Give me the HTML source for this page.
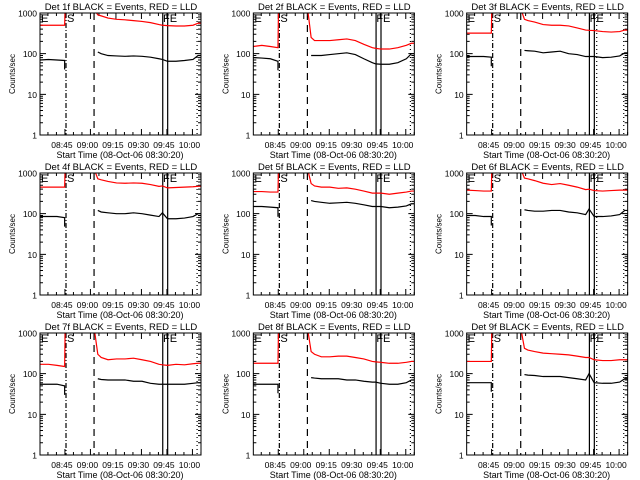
<!DOCTYPE html>
<html><head><meta charset="utf-8"><style>
html,body{margin:0;padding:0;background:#fff;width:640px;height:480px;overflow:hidden}
svg text{font-family:"Liberation Sans",sans-serif;fill:#000}
</style></head><body>
<svg id="chart" width="640" height="480" viewBox="0 0 640 480" xmlns="http://www.w3.org/2000/svg"></svg>
<script>
// Shared sample times (minutes after 08:30:20)
const seg1Times = [0, 5, 10, 14.5];
const seg2Times = [32, 34, 36, 40, 45, 50, 55, 60, 65, 70, 72, 75, 80, 85, 90, 93];
const tickLabels = ["08:45", "09:00", "09:15", "09:30", "09:45", "10:00"];
const yTickValues = [1, 10, 100, 1000];
const detNames = ["1f","2f","3f","4f","5f","6f","7f","8f","9f"];
// Pre-gap levels
const red1 = [[500,500,500,500],[150,160,150,140],[320,320,320,320],[450,450,450,450],[350,350,340,340],[380,370,360,360],[170,170,160,150],[180,180,180,180],[200,200,200,200]];
const black1 = [[70,72,70,68],[80,78,75,65],[85,85,85,82],[85,85,85,80],[150,150,145,140],[90,90,85,85],[55,55,55,50],[55,55,55,55],[60,60,60,60]];
// Post-gap series (red: LLD, black: Events); black uses seg2Times from index 1
const red2 = [
 [1200,900,850,750,700,680,650,620,580,520,500,490,480,480,500,560],
 [1200,250,210,210,210,220,230,210,170,140,135,130,130,140,160,180],
 [1200,700,650,600,520,500,500,480,430,380,375,370,350,340,350,380],
 [1200,720,680,620,570,560,570,560,520,470,480,430,440,450,460,470],
 [1200,550,480,450,450,420,430,400,360,320,320,320,300,320,340,360],
 [1200,750,720,650,560,520,550,500,450,390,400,370,360,370,380,380],
 [1200,300,250,220,230,230,240,220,200,170,165,160,170,165,175,180],
 [1200,350,300,260,260,270,270,250,230,200,195,190,180,180,190,200],
 [1200,420,380,350,320,310,300,290,270,250,250,220,210,210,220,220]];
const black2 = [
 [null,110,100,90,88,86,88,86,82,75,72,65,65,68,72,90],
 [null,90,90,90,95,100,105,95,75,60,56,55,55,60,75,100],
 [null,120,118,115,105,110,115,100,95,85,85,85,80,82,88,105],
 [null,120,110,105,100,100,105,100,92,85,105,75,75,78,85,100],
 [null,210,200,190,180,185,190,180,165,150,150,150,140,145,155,175],
 [null,125,120,115,115,120,120,110,105,95,130,85,85,88,95,120],
 [null,75,72,70,70,70,65,65,58,55,55,55,55,55,58,60],
 [null,80,78,75,75,75,70,70,65,62,62,58,55,55,60,70],
 [null,95,92,90,85,85,85,80,75,70,100,60,58,58,62,75]];

const NS = "http://www.w3.org/2000/svg";
const svg = document.getElementById("chart");
const X0 = 40, X1 = 201, Y0 = 13, Y1 = 135, PXMIN = 1.7;
function xs(t){ return X0 + t * PXMIN; }
function ys(v){ return Y1 - (Y1 - Y0) / 3 * Math.log10(Math.max(1, Math.min(v, 1300))); }
function mk(tag, attrs, parent){ const e = document.createElementNS(NS, tag); for (const k in attrs) e.setAttribute(k, attrs[k]); parent.appendChild(e); return e; }

for (let p = 0; p < 9; p++) {
  const g = mk("g", {transform: `translate(${(p % 3) * 213.33},${Math.floor(p / 3) * 160})`}, svg);
  
  
  const cp = mk("clipPath", {id: "c" + p}, g);
  mk("rect", {x: X0, y: Y0, width: X1 - X0, height: Y1 - Y0}, cp);
  const t = mk("text", {x: 121, y: 10, "font-size": 9.5, "text-anchor": "middle"}, g);
  t.textContent = `Det ${detNames[p]} BLACK = Events, RED = LLD`;
  
  
  const yl = mk("text", {x: 0, y: 0, "font-size": 8, "text-anchor": "middle", transform: "translate(15,74) rotate(-90)"}, g);
  yl.textContent = "Counts/sec";
  
  
  const xl = mk("text", {x: 120, y: 158, "font-size": 9, "text-anchor": "middle"}, g);
  xl.textContent = "Start Time (08-Oct-06 08:30:20)";
  
  
  yTickValues.forEach(v => {
    const lab = mk("text", {x: 37, y: ys(v) + 3.5, "font-size": 8.5, "text-anchor": "end"}, g);
    lab.textContent = String(v);
    
    
  });
  let d = "";
  for (let dec = 0; dec < 3; dec++) for (let m = 1; m <= 10; m++) {
    const y = ys(Math.pow(10, dec) * m), L = (m === 1 || m === 10) ? 6 : 3;
    d += `M${X0},${y}h${L}M${X1},${y}h${-L}`;
  }
  for (let k = 0; k < tickLabels.length; k++) {
    const x = xs(14.67 + 15 * k);
    d += `M${x},${Y1}v-6M${x},${Y0}v6`;
    const lab = mk("text", {x: x - 3, y: 148, "font-size": 8.5, "text-anchor": "middle"}, g);
    lab.textContent = tickLabels[k];
    
    
  }
  for (let m = 0; m < 95; m += 5) { const x = xs(4.67 + m); if (x < X1) d += `M${x},${Y1}v-3M${x},${Y0}v3`; }
  const ticks = mk("path", {d: d, stroke: "#000", "stroke-width": 1, fill: "none"}, g);
  
  
  const lines = [[15.3, "5,2,1,2"], [31.8, "7,5"], [72.2, null], [75.1, null], [92.4, "1,3"]];
  if (p % 3 === 2) lines.push([76.5, "1,3"]);
  lines.forEach(([tm, dash]) => {
    const a = {x1: xs(tm), x2: xs(tm), y1: Y0, y2: Y1, stroke: "#000", "stroke-width": 1.2};
    if (dash) a["stroke-dasharray"] = dash;
    const l = mk("line", a, g);
    
    
  });
  [["E", 41], ["S", 67], ["FE", 163]].forEach(([s, x]) => {
    const tx = mk("text", {x: x, y: 22, "font-size": 11}, g);
    tx.textContent = s;
    
    
  });
  function linePath(times, vals) {
    let s = "", started = false;
    for (let i = 0; i < times.length; i++) {
      if (vals[i] == null) continue;
      const x = xs(times[i]), y = ys(vals[i]);
      s += (started ? "L" : "M") + `${x},${y}`;
      started = true;
    }
    return s;
  }
  const gr = mk("g", {"clip-path": `url(#c${p})`}, g);
  const rp = linePath(seg1Times, red1[p]) + `L${xs(14.8)},${ys(1300)}` + linePath(seg2Times, red2[p]) + `L${xs(94.7)},${ys(red2[p][15])}`;
  const r = mk("path", {d: rp, stroke: "#ff0000", "stroke-width": 1.2, fill: "none"}, gr);
  
  
  const last = black1[p][3];
  const bp = linePath(seg1Times, black1[p]) + `L${xs(14.5)},${ys(last * 0.6)}` + linePath(seg2Times, black2[p]) + `L${xs(94.7)},${ys(black2[p][15])}`;
  const b = mk("path", {d: bp, stroke: "#000", "stroke-width": 1.2, fill: "none"}, gr);
  
  
  const box = mk("rect", {x: X0, y: Y0, width: X1 - X0, height: Y1 - Y0, fill: "none", stroke: "#000", "stroke-width": 1}, g);
  
  
}
</script>
</body></html>
